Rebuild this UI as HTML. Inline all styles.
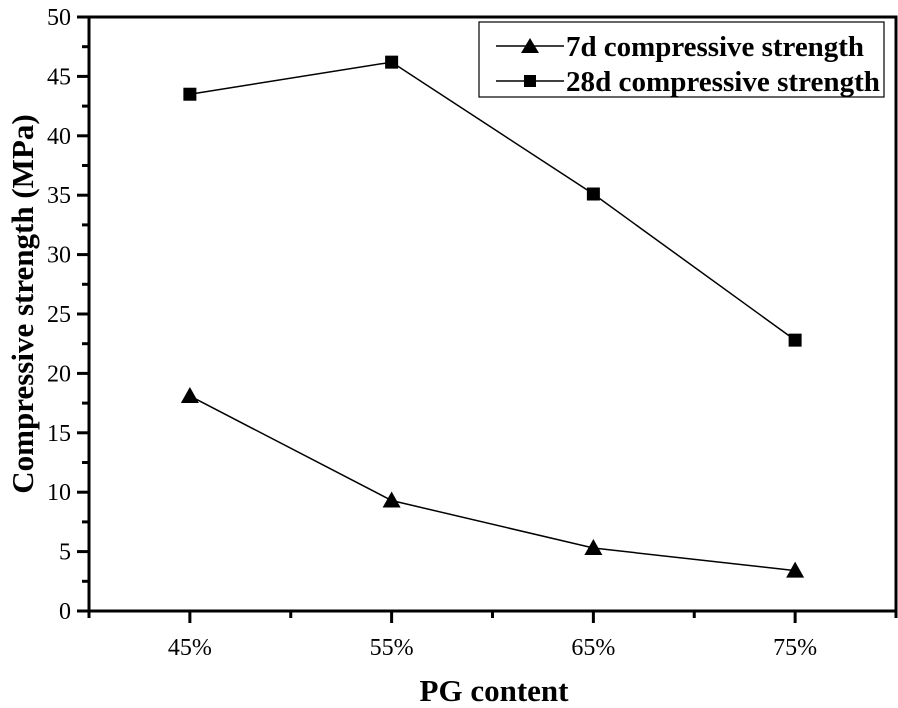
<!DOCTYPE html>
<html><head><meta charset="utf-8"><style>
body{margin:0;background:#fff;}
svg{display:block;font-family:"Liberation Serif",serif;}
</style></head><body>
<svg id="chart" width="898" height="708" viewBox="0 0 898 708">
<g id="axes"></g>
<g id="series"></g>
<g>
<rect x="479" y="22" width="405" height="75" fill="#fff" stroke="#000" stroke-width="1.2"/>
<g>
<line x1="496" y1="46" x2="564" y2="46" stroke="#000" stroke-width="1.5"/>
<polygon points="530,38 539,53 521,53" fill="#000"/>
<text x="566" y="56" font-size="29" font-weight="bold" textLength="298" lengthAdjust="spacingAndGlyphs">7d compressive strength</text>
</g>
<g>
<line x1="496" y1="81" x2="564" y2="81" stroke="#000" stroke-width="1.5"/>
<rect x="524" y="75" width="12" height="12" fill="#000"/>
<text x="566" y="91" font-size="29" font-weight="bold" textLength="314" lengthAdjust="spacingAndGlyphs">28d compressive strength</text>
</g>
</g>
<text x="494" y="701" text-anchor="middle" font-size="31" font-weight="bold">PG content</text>
<text transform="translate(33,304) rotate(-90)" text-anchor="middle" font-size="31" font-weight="bold">Compressive strength (MPa)</text>
</svg>
<script>
const categories = ["45%","55%","65%","75%"];
const strength7d = [18.1, 9.3, 5.3, 3.4];
const strength28d = [43.5, 46.2, 35.1, 22.8];
const yTicks = [0,5,10,15,20,25,30,35,40,45,50];

const L=89,R=896,T=17,B=611;
const xs=i=>L+(i+0.5)*(R-L)/categories.length;
const ys=v=>B-(v/50)*(B-T);
const NS="http://www.w3.org/2000/svg";
function mk(tag,attrs,parent){const e=document.createElementNS(NS,tag);for(const k in attrs)e.setAttribute(k,attrs[k]);parent.appendChild(e);return e;}
const ax=document.getElementById('axes'), sr=document.getElementById('series');
const frame=mk('rect',{x:L,y:T,width:R-L,height:B-T,fill:'none',stroke:'#000','stroke-width':3},ax);


yTicks.forEach((v,i)=>{
  const y=ys(v);
  const t=mk('line',{x1:L-12,x2:L,y1:y,y2:y,stroke:'#000','stroke-width':3},ax);
  
  
  const lb=mk('text',{x:L-18,y:y+8,'text-anchor':'end','font-size':24},ax);
  lb.textContent=v;
  
  
  if(i<yTicks.length-1){
    const ym=ys(v+2.5);
    const m=mk('line',{x1:L-7,x2:L,y1:ym,y2:ym,stroke:'#000','stroke-width':3},ax);
    
    
  }
});
for(let k=0;k<=categories.length*2;k++){
  const x=L+k*(R-L)/(categories.length*2);
  const major=k%2===1;
  const t=mk('line',{x1:x,x2:x,y1:B,y2:B+(major?12:7),stroke:'#000','stroke-width':3},ax);
  
  
}
categories.forEach((c,i)=>{
  const lb=mk('text',{x:xs(i),y:B+44,'text-anchor':'middle','font-size':24},ax);
  lb.textContent=c;
  
  
});
function series(vals,name,marker){
  const pl=mk('polyline',{points:vals.map((v,i)=>xs(i)+','+ys(v)).join(' '),fill:'none',stroke:'#000','stroke-width':1.5},sr);
  
  
  vals.forEach((v,i)=>{
    const x=xs(i),y=ys(v);let m;
    if(marker==='tri') m=mk('polygon',{points:`${x},${y-9} ${x+9},${y+7} ${x-9},${y+7}`,fill:'#000'},sr);
    else m=mk('rect',{x:x-6.5,y:y-6.5,width:13,height:13,fill:'#000'},sr);
    
    
  });
}
series(strength28d,'strength-28d','sq');
series(strength7d,'strength-7d','tri');
</script>
</body></html>
